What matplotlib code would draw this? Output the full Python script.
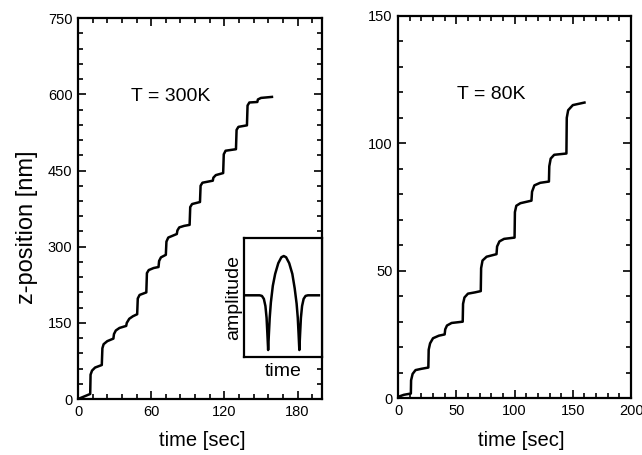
"""Two step-trace panels (z-position vs time at 300K and 80K) with an amplitude inset."""

import matplotlib
matplotlib.use("Agg")
import matplotlib.pyplot as plt
from matplotlib.ticker import MultipleLocator

plt.rcParams["font.family"] = ["Liberation Sans", "DejaVu Sans"]

# 300K trace: vertices (time in s, z in nm)
t_300 = [0, 10, 10.3, 11.5, 14, 19.5,
         20, 21, 24, 29,
         29.5, 31, 34, 39.5,
         40, 42, 45, 48.5,
         49, 50.5, 56,
         56.5, 58, 62, 66,
         66.5, 68, 72,
         72.5, 74, 78, 81,
         81.5, 83, 87, 91.5,
         92, 93.5, 100,
         100.5, 102, 110.5,
         111, 113, 119,
         119.5, 121, 129.5,
         130, 131.5, 138.5,
         139, 140.5, 147,
         147.5, 150, 159]
z_300 = [0, 10, 48, 56, 62, 67,
         100, 108, 114, 119,
         128, 135, 140, 144,
         150, 158, 163, 167,
         198, 205, 210,
         248, 254, 258, 260,
         272, 279, 284,
         310, 318, 322, 325,
         332, 338, 341, 343,
         378, 384, 388,
         420, 426, 430,
         436, 441, 445,
         482, 489, 492,
         530, 536, 539,
         578, 584, 585,
         590, 593, 595]

# 80K trace: vertices
t_80 = [0, 5, 11,
        11.2, 12.5, 15, 20, 26,
        26.3, 27.5, 30, 35, 40,
        40.5, 42, 46, 55.5,
        55.8, 57, 60, 66, 71,
        71.3, 72.5, 76, 84.5,
        85, 87, 91, 100,
        100.3, 101.5, 105, 114.5,
        115, 117, 122, 129.5,
        129.8, 131, 134, 144.5,
        144.8, 146, 150, 160]
z_80 = [0.5, 1.3, 1.8,
        7, 9.5, 11, 11.5, 12,
        19, 21.5, 23.5, 24.5, 25,
        27, 28.5, 29.5, 30,
        37, 39.5, 41, 41.5, 42,
        51, 54, 55.5, 56.5,
        59.5, 61.5, 62.5, 63,
        73, 75.5, 76.5, 77.5,
        81, 83.5, 84.5, 85,
        91, 94, 95.5, 96,
        110, 113, 115, 116]

# inset waveform, normalised units
amp_t = [0.01, 0.20, 0.23, 0.255, 0.275, 0.29, 0.30, 0.31,
         0.32, 0.33, 0.345, 0.37, 0.40, 0.44, 0.48, 0.51,
         0.54, 0.58, 0.62, 0.65, 0.675, 0.69, 0.70, 0.71,
         0.72, 0.73, 0.745, 0.765, 0.79, 0.82, 0.96]
amp_y = [0.52, 0.52, 0.515, 0.49, 0.43, 0.33, 0.20, 0.06,
         0.20, 0.33, 0.46, 0.60, 0.70, 0.79, 0.84, 0.85,
         0.84, 0.79, 0.70, 0.58, 0.45, 0.33, 0.20, 0.06,
         0.20, 0.33, 0.43, 0.49, 0.515, 0.52, 0.52]

LW = 1.8


def style(ax):
    for s in ax.spines.values():
        s.set_linewidth(1.6)
    ax.tick_params(which="both", direction="in", top=True, right=True,
                   labelsize=10.5, width=1.2)
    ax.tick_params(which="major", length=6, pad=4)
    ax.tick_params(which="minor", length=3.5)


fig = plt.figure(figsize=(6.42, 4.55), dpi=100)

ax1 = fig.add_axes([0.1215, 0.123, 0.380, 0.837])
ax1.plot(t_300, z_300, color="black", lw=LW)
ax1.set_xlim(0, 200)
ax1.set_ylim(0, 750)
ax1.xaxis.set_major_locator(MultipleLocator(60))
ax1.xaxis.set_minor_locator(MultipleLocator(12))
ax1.yaxis.set_major_locator(MultipleLocator(150))
ax1.yaxis.set_minor_locator(MultipleLocator(30))
style(ax1)
ax1.set_xlabel("time [sec]", fontsize=14.5)
ax1.xaxis.set_label_coords(0.51, -0.085)
ax1.set_ylabel("z-position [nm]", fontsize=17)
ax1.yaxis.set_label_coords(-0.165, 0.45)
ax1.text(76, 596, "T = 300K", fontsize=14, ha="center", va="center")

ins = fig.add_axes([0.380, 0.215, 0.1215, 0.2615])
ins.plot(amp_t, amp_y, color="black", lw=LW)
ins.set_xlim(0, 1)
ins.set_ylim(0, 1)
ins.set_xticks([])
ins.set_yticks([])
for s in ins.spines.values():
    s.set_linewidth(1.6)
ins.set_xlabel("time", fontsize=14, labelpad=4)
ins.set_ylabel("amplitude", fontsize=14, labelpad=1)

ax2 = fig.add_axes([0.620, 0.125, 0.363, 0.840])
ax2.plot(t_80, z_80, color="black", lw=LW)
ax2.set_xlim(0, 200)
ax2.set_ylim(0, 150)
ax2.xaxis.set_major_locator(MultipleLocator(50))
ax2.xaxis.set_minor_locator(MultipleLocator(10))
ax2.yaxis.set_major_locator(MultipleLocator(50))
ax2.yaxis.set_minor_locator(MultipleLocator(10))
style(ax2)
ax2.set_xlabel("time [sec]", fontsize=14.5)
ax2.xaxis.set_label_coords(0.53, -0.085)
ax2.text(80, 119, "T = 80K", fontsize=14, ha="center", va="center")

fig.savefig("out.png", dpi=100)
